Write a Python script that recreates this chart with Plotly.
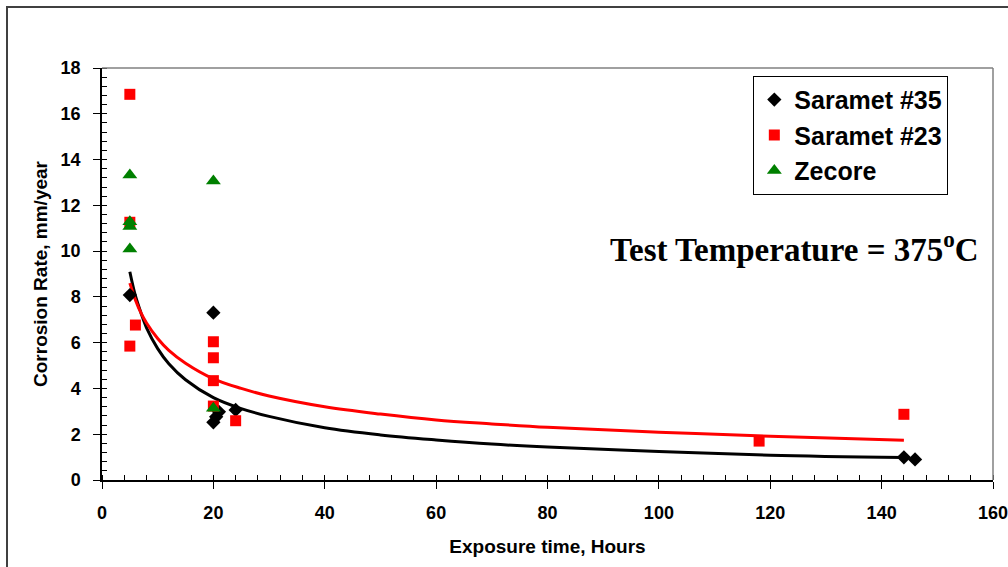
import plotly.graph_objects as go

# Scatter data
s35_x = [5, 20, 20, 20.5, 21, 24, 144, 146]
s35_y = [8.08, 7.31, 2.52, 2.76, 2.98, 3.06, 0.99, 0.90]
s23_x = [5, 5, 6, 5, 20, 20, 20, 20, 24, 118, 144]
s23_y = [16.85, 11.26, 6.77, 5.85, 6.04, 5.34, 4.34, 3.23, 2.59, 1.70, 2.87]
zec_x = [5, 5, 5, 5, 20, 20]
zec_y = [13.32, 11.28, 11.07, 10.09, 13.06, 3.13]

# Trend lines
trend_x = [5, 6, 7, 8, 10, 12, 15, 20, 25, 30, 40, 50, 60, 70, 80, 100, 120, 144]
trend35_y = [9.1, 8.05, 7.3, 6.65, 5.74, 5.08, 4.38, 3.6, 3.12, 2.78, 2.28, 1.97, 1.75, 1.57, 1.44, 1.25, 1.08, 0.98]
trend23_y = [8.6, 7.87, 7.3, 6.86, 6.18, 5.66, 5.1, 4.42, 4.0, 3.67, 3.2, 2.88, 2.62, 2.45, 2.3, 2.09, 1.91, 1.74]

x_ticks = [0, 20, 40, 60, 80, 100, 120, 140, 160]
y_ticks = [0, 2, 4, 6, 8, 10, 12, 14, 16, 18]

FONT = "Liberation Sans, Arial, sans-serif"

fig = go.Figure()
fig.add_trace(go.Scatter(x=trend_x, y=trend35_y, mode="lines", line=dict(color="black", width=3, shape="spline"),
                         showlegend=False, hoverinfo="skip"))
fig.add_trace(go.Scatter(x=trend_x, y=trend23_y, mode="lines", line=dict(color="#FF0000", width=3, shape="spline"),
                         showlegend=False, hoverinfo="skip"))
fig.add_trace(go.Scatter(x=s35_x, y=s35_y, mode="markers", name="Saramet #35",
                         marker=dict(symbol="diamond", size=11, color="black")))
fig.add_trace(go.Scatter(x=s23_x, y=s23_y, mode="markers", name="Saramet #23",
                         marker=dict(symbol="square", size=11, color="#FF0000")))
fig.add_trace(go.Scatter(x=zec_x, y=zec_y, mode="markers", name="Zecore",
                         marker=dict(symbol="triangle-up", size=13, color="#008000")))

axis_common = dict(
    showgrid=False, zeroline=False, showline=True, linecolor="black", linewidth=1.5,
    ticks="outside", ticklen=7, tickwidth=1, tickcolor="black", automargin=False,
    ticklabeloverflow="allow",
    tickfont=dict(family=FONT, size=18, color="black", weight="bold"),
    minor=dict(ticks="inside", ticklen=5, tickwidth=1, tickcolor="black", showgrid=False),
)

fig.update_xaxes(range=[0, 160], tickmode="array", tickvals=x_ticks, ticktext=[str(v) for v in x_ticks],
                 title=dict(text="Exposure time, Hours", font=dict(family=FONT, size=19, color="black", weight="bold"),
                            standoff=17),
                 ticklabelstandoff=9, **axis_common)
fig.update_xaxes(minor=dict(dtick=4, tick0=0))
fig.update_yaxes(range=[0, 18], tickmode="array", tickvals=y_ticks, ticktext=[str(v) for v in y_ticks],
                 title=dict(text="Corrosion Rate, mm/year", font=dict(family=FONT, size=19, color="black", weight="bold"),
                            standoff=8),
                 ticklabelstandoff=9, **axis_common)
fig.update_yaxes(minor=dict(dtick=0.4, tick0=0))

# plot area top/right border (gray) and outer chart border
fig.add_shape(type="line", xref="paper", yref="paper", x0=0, x1=1, y0=1, y1=1, line=dict(color="#808080", width=1.5))
fig.add_shape(type="line", xref="paper", yref="paper", x0=1, x1=1, y0=0, y1=1, line=dict(color="#808080", width=1.5))
fig.add_shape(type="rect", xref="paper", yref="paper",
              x0=(7 - 102) / 891, x1=(1015 - 102) / 891, y0=(480 - 575) / 412, y1=(480 - 7) / 412,
              line=dict(color="#404040", width=2), fillcolor="rgba(0,0,0,0)")

fig.add_annotation(text="Test Temperature = 375<sup>o</sup>C", xref="paper", yref="paper",
                   x=0.777, y=0.566, xanchor="center", yanchor="middle", showarrow=False,
                   font=dict(family="Liberation Serif, Times New Roman, serif", size=33, color="black", weight="bold"))

fig.update_layout(
    width=1008, height=567,
    margin=dict(l=102, r=15, t=68, b=87),
    paper_bgcolor="white", plot_bgcolor="white",
    legend=dict(x=0.731, y=0.981, xanchor="left", yanchor="top",
                bgcolor="white", bordercolor="black", borderwidth=1,
                font=dict(family=FONT, size=25, color="black", weight="bold"),
                itemwidth=30),
    showlegend=True,
)

fig.write_html("out.html", config={"displayModeBar": False},
               post_script="document.body.style.margin='0';document.body.style.overflow='hidden';")
